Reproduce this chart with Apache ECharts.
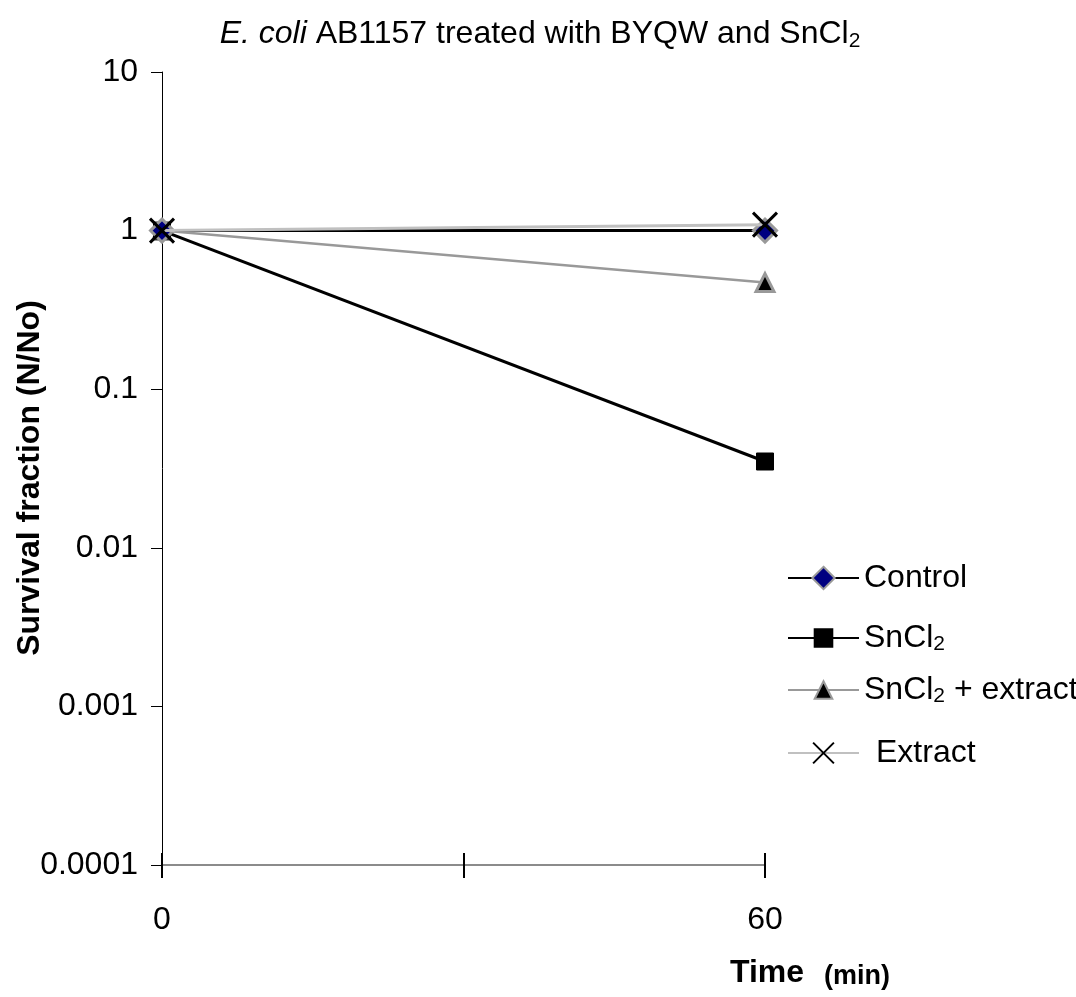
<!DOCTYPE html>
<html>
<head>
<meta charset="utf-8">
<script src="https://cdn.jsdelivr.net/npm/echarts@6/dist/echarts.min.js"></script>
<style>
  html, body { margin: 0; padding: 0; background: #fff; }
  #chart { width: 1076px; height: 997px; }
</style>
</head>
<body>
<div id="chart"></div>
<script>
// time points (min)
const times = [0, 60]
// survival fraction N/No
const control = [1, 1]
const sncl2 = [1, 0.035]
const sncl2Extract = [1, 0.47]
const extract = [1, 1.09]

const xTickLabels = { 0: '0', 60: '60' }
const yTickLabels = ['0.0001', '0.001', '0.01', '0.1', '1', '10']

const legendNames = {
  'Control': 'Control',
  'SnCl2': 'SnCl{sub|2}',
  'SnCl2 + extract': 'SnCl{sub|2} + extract',
  'Extract': '{ind|Extract}'
}

const font = 'Liberation Sans, Arial, sans-serif'
const crossPath = 'path://M0,0L10,10M10,0L0,10'

function pairs(vals) {
  return times.map((t, i) => [t, vals[i]])
}

// one legend block per entry, the spacing in the original is uneven
function legendItem(name, top, h) {
  return {
    orient: 'vertical',
    left: 782,
    top: top,
    itemWidth: 71,
    itemHeight: h,
    itemGap: 0,
    data: [name],
    formatter(n) {
      return legendNames[n]
    },
    textStyle: {
      fontSize: 32,
      color: '#000',
      padding: [0, 0, 0, 0],
      rich: {
        sub: { fontSize: 21, padding: [12, 0, 0, 0], color: '#000' },
        ind: { fontSize: 32, padding: [0, 0, 0, 12], color: '#000' }
      }
    }
  }
}

const chart = echarts.init(document.getElementById('chart'))

chart.setOption({
  backgroundColor: '#fff',
  animation: false,
  textStyle: { fontFamily: font },
  title: {
    text: '{i|E. coli} AB1157 treated with BYQW and SnCl{s|2}',
    left: 535,
    top: 12,
    textAlign: 'center',
    textStyle: {
      fontSize: 32,
      fontWeight: 'normal',
      color: '#000',
      rich: {
        i: { fontSize: 32, fontStyle: 'italic', color: '#000' },
        s: { fontSize: 21, padding: [14, 0, 0, 0], color: '#000' }
      }
    }
  },
  grid: {
    left: 162,
    right: 311,
    top: 72,
    bottom: 132
  },
  legend: [
    legendItem('Control', 557, 28),
    legendItem('SnCl2', 617, 22),
    legendItem('SnCl2 + extract', 669, 22),
    legendItem('Extract', 732, 26)
  ],
  graphic: [{
    type: 'text',
    left: 730,
    top: 957,
    style: {
      text: '{b|Time}{s|(min)}',
      rich: {
        b: { fontSize: 32, fontWeight: 'bold', fontFamily: font, fill: '#000' },
        s: { fontSize: 27, fontWeight: 'bold', fontFamily: font, fill: '#000', padding: [7, 0, 0, 20] }
      }
    }
  }, {
    type: 'text',
    x: 30,
    y: 478,
    rotation: Math.PI / 2,
    style: {
      text: 'Survival fraction (N/No)',
      fontSize: 32,
      fontWeight: 'bold',
      fontFamily: font,
      fill: '#000',
      align: 'center',
      verticalAlign: 'middle'
    }
  }],
  xAxis: [{
    type: 'value',
    min: 0,
    max: 60,
    interval: 30,
    axisLine: { show: true, lineStyle: { color: '#666', width: 1.5 } },
    axisTick: { show: true, length: 13, lineStyle: { color: '#000', width: 2 } },
    splitLine: { show: false },
    axisLabel: {
      fontSize: 32,
      color: '#000',
      margin: 39,
      formatter(v) {
        return xTickLabels[v] || ''
      }
    }
  }, {
    // second copy of the axis only to make the ticks cross the line
    type: 'value',
    position: 'bottom',
    min: 0,
    max: 60,
    interval: 30,
    axisLine: { show: false },
    axisTick: { show: true, inside: true, length: 12, lineStyle: { color: '#000', width: 2 } },
    axisLabel: { show: false },
    splitLine: { show: false }
  }],
  yAxis: {
    type: 'log',
    logBase: 10,
    min: 0.0001,
    max: 10,
    axisLine: { show: true, lineStyle: { color: '#000', width: 1 } },
    axisTick: { show: true, length: 11, lineStyle: { color: '#000' } },
    splitLine: { show: false },
    minorTick: { show: false },
    axisLabel: {
      fontSize: 32,
      color: '#000',
      margin: 24,
      formatter(v) {
        return yTickLabels[Math.round(Math.log10(v)) + 4]
      }
    }
  },
  series: [
    {
      name: 'Extract',
      type: 'line',
      data: pairs(extract),
      symbol: crossPath,
      symbolSize: 24,
      lineStyle: { color: '#c0c0c0', width: 3 },
      itemStyle: { color: 'none', borderColor: '#000', borderWidth: 3 },
      z: 5
    },
    {
      name: 'SnCl2 + extract',
      type: 'line',
      data: pairs(sncl2Extract),
      symbol: 'triangle',
      symbolSize: 18,
      lineStyle: { color: '#999', width: 2.5 },
      itemStyle: { color: '#000', borderColor: '#999', borderWidth: 3 },
      z: 3
    },
    {
      name: 'SnCl2',
      type: 'line',
      data: pairs(sncl2),
      symbol: 'rect',
      symbolSize: 17,
      lineStyle: { color: '#000', width: 3 },
      itemStyle: { color: '#000', borderColor: '#000', borderWidth: 1 },
      z: 3
    },
    {
      name: 'Control',
      type: 'line',
      data: pairs(control),
      symbol: 'diamond',
      symbolSize: 23,
      lineStyle: { color: '#000', width: 3 },
      itemStyle: { color: '#000080', borderColor: '#999', borderWidth: 3 },
      z: 4
    }
  ]
})
</script>
</body>
</html>
